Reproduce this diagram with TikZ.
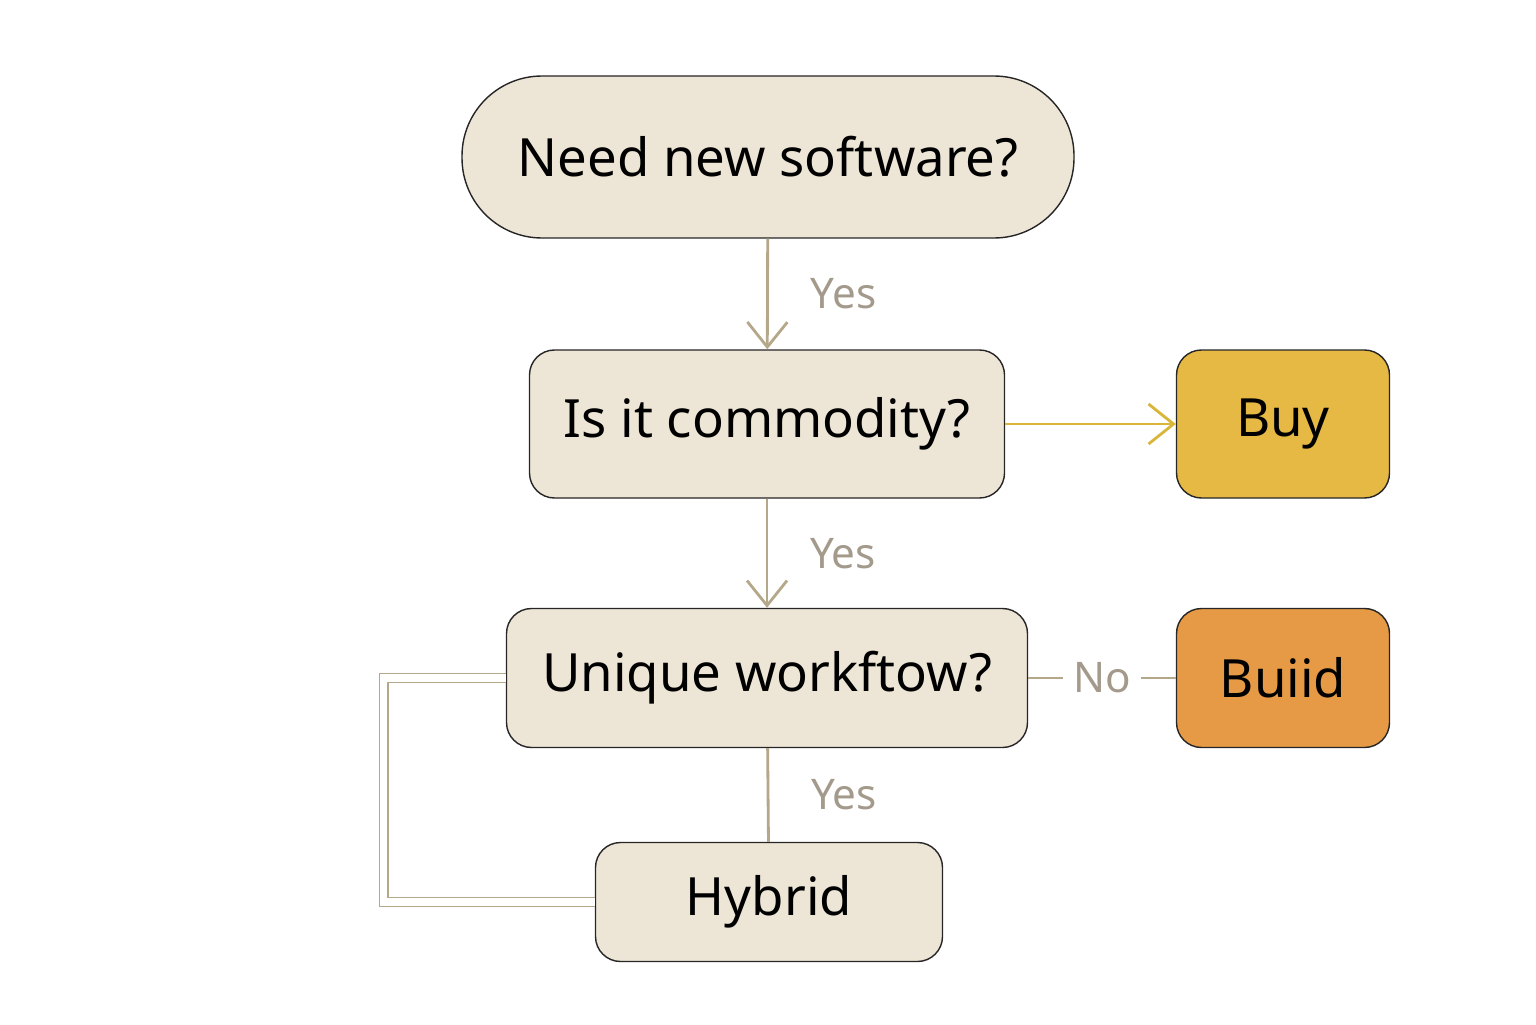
\documentclass[tikz,border=0pt]{standalone}
\usepackage{fontspec}
\setmainfont{Noto Sans}
\usetikzlibrary{arrows.meta,calc}
\definecolor{boxfill}{HTML}{EDE5D6}
\definecolor{buyfill}{HTML}{E6B944}
\definecolor{buildfill}{HTML}{E69A45}
\definecolor{linetan}{HTML}{B5A88A}
\definecolor{lineyel}{HTML}{D9B53A}
\definecolor{labgray}{HTML}{A39A8C}
\begin{document}
\begin{tikzpicture}[
  block/.style={rectangle, rounded corners=0.25cm, draw=black!85, fill=boxfill, font=\fontsize{15}{18}\selectfont},
  lab/.style={font=\fontsize{12}{14}\selectfont, text=labgray},
  flow/.style={draw=linetan, thick, -{Straight Barb[length=2.5mm,width=4mm]}}
]
\useasboundingbox (0,0) rectangle (15.36,10.24);
% Decision blocks
\node[block,rounded corners=0.8cm,minimum width=6.12cm,minimum height=1.62cm] (need) at (7.68,8.67) {Need new software?};
\node[block,minimum width=4.75cm,minimum height=1.48cm] (comm) at (7.67,6.00) {Is it commodity?};
\node[block,minimum width=5.21cm,minimum height=1.39cm] (uniq) at (7.67,3.46) {Unique workftow?};
\node[block,minimum width=3.47cm,minimum height=1.19cm] (hybrid) at (7.69,1.22) {Hybrid};

% Outcomes
\node[block,fill=buyfill,minimum width=2.13cm,minimum height=1.48cm] (buy) at (12.83,6.00) {Buy};
\node[block,fill=buildfill,minimum width=2.13cm,minimum height=1.39cm] (build) at (12.83,3.46) {Buiid};

% Arrows
\draw[flow] (need) -- (comm) node[lab,midway,right=0.3cm] {Yes};
\draw[flow] (comm) -- (uniq) node[lab,midway,right=0.3cm] {Yes};
\draw[flow,draw=lineyel] (comm) -- (buy);
\draw[draw=linetan,thick] (uniq) -- (hybrid) node[lab,midway,right=0.3cm] {Yes};
\draw[draw=linetan,thick] (uniq.east) -- ++(0.35,0) coordinate (n1);
\draw[draw=linetan,thick] (build.west) -- ++(-0.35,0) coordinate (n2);
\node[lab] (no) at ($(n1)!0.5!(n2)$) {No};
\draw[draw=linetan,double,double distance=2pt] (uniq.west) -- ++(-1.22,0) |- (hybrid.west);
\end{tikzpicture}
\end{document}
